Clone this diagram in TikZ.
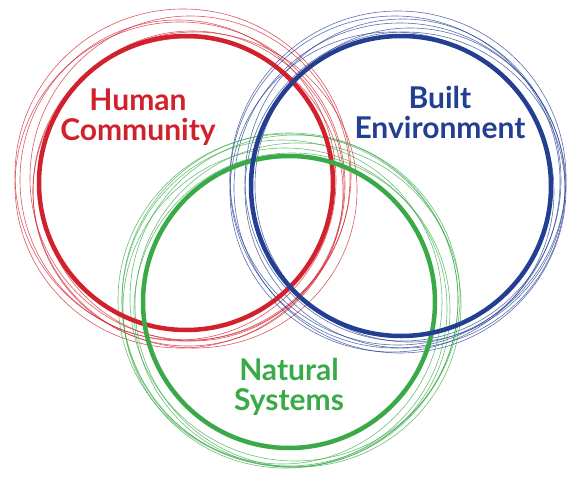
\documentclass[tikz,border=0pt]{standalone}
\usepackage{fontspec}
\setsansfont{Lato}
\usetikzlibrary{positioning}

\definecolor{hcred}{RGB}{209,33,45}
\definecolor{beblue}{RGB}{35,63,146}
\definecolor{nsgreen}{RGB}{58,170,72}

\begin{document}
\begin{tikzpicture}[
            x=1pt, y=-1pt,
            ring/.style={line width=4.5pt},
            sketch/.style={line width=0.6pt, opacity=0.75},
            areatext/.style={font=\fontsize{30}{30}\selectfont\sffamily\bfseries,
                    align=center, inner sep=0pt},
            ]
            \useasboundingbox (0,0) rectangle (568,479);

            % loose hand-drawn rings
            \foreach \cx/\cy/\rx/\ry in {180/185/165/163, 190/178/160/162, 195/190/162/158,
                    178/180/158/160, 188/192/155/154, 183/175/168/166, 192/186/152/155}
                \draw[sketch, hcred] (\cx,\cy) ellipse[x radius=\rx pt, y radius=\ry pt];
            \foreach \cx/\cy/\rx/\ry in {395/182/165/166, 405/190/160/158, 398/178/168/167,
                    410/185/155/157, 392/192/162/160, 403/180/158/161, 400/188/166/165}
                \draw[sketch, beblue] (\cx,\cy) ellipse[x radius=\rx pt, y radius=\ry pt];
            \foreach \cx/\cy/\rx/\ry in {290/300/168/167, 285/308/162/160, 295/298/165/163,
                    282/302/160/162, 292/310/158/157, 288/300/170/166, 298/305/163/162}
                \draw[sketch, nsgreen] (\cx,\cy) ellipse[x radius=\rx pt, y radius=\ry pt];

            % main rings
            \coordinate (hc) at (186,183);
            \coordinate (be) at (401,186);
            \coordinate (ns) at (289,302);
            \draw[ring, hcred] (hc) circle[radius=147pt];
            \draw[ring, nsgreen] (ns) circle[radius=146pt];
            \draw[ring, beblue] (be) circle[radius=150pt];

            \node[areatext, text=hcred] (human) at (138,117) {Human\\Community};
            \node[areatext, text=beblue] (built) at (440,112) {Built\\Environment};
            \node[areatext, text=nsgreen] (natural) at (289,387) {Natural\\Systems};

        \end{tikzpicture}
\end{document}
